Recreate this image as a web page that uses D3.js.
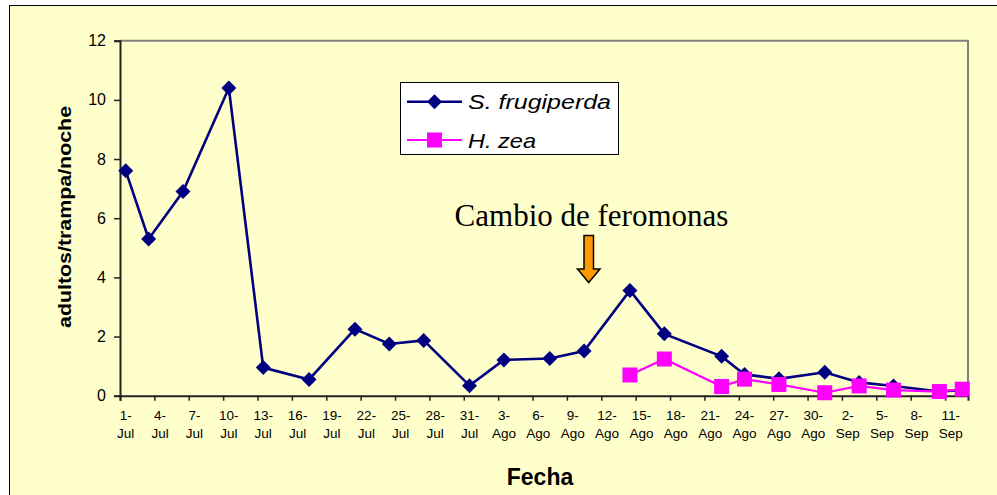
<!DOCTYPE html>
<html>
<head>
<meta charset="utf-8">
<script src="https://cdn.jsdelivr.net/npm/d3@7"></script>
<style>
  body { margin: 0; background: #fff; }
  svg { display: block; font-family: Arial, "Liberation Sans", sans-serif; }
</style>
</head>
<body>
<svg width="997" height="495"></svg>
<script>
// fechas de muestreo y capturas (adultos/trampa/noche)
const fechasSF = ['1-Jul','3-Jul','6-Jul','10-Jul','13-Jul','17-Jul','21-Jul','24-Jul','27-Jul','31-Jul',
  '3-Ago','7-Ago','10-Ago','14-Ago','17-Ago','22-Ago','24-Ago','27-Ago','31-Ago','3-Sep','6-Sep','10-Sep','12-Sep'];
const sFrugiperda = [7.6, 5.3, 6.9, 10.4, 0.95, 0.55, 2.25, 1.75, 1.87, 0.34,
  1.21, 1.26, 1.51, 3.56, 2.09, 1.33, 0.72, 0.57, 0.79, 0.45, 0.33, 0.14, 0.19];
const fechasHZ = ['14-Ago','17-Ago','22-Ago','24-Ago','27-Ago','31-Ago','3-Sep','6-Sep','10-Sep','12-Sep'];
const hZea = [0.7, 1.24, 0.31, 0.56, 0.38, 0.1, 0.33, 0.19, 0.14, 0.22];
const tickLabels = ['1-Jul','4-Jul','7-Jul','10-Jul','13-Jul','16-Jul','19-Jul','22-Jul','25-Jul','28-Jul','31-Jul',
  '3-Ago','6-Ago','9-Ago','12-Ago','15-Ago','18-Ago','21-Ago','24-Ago','27-Ago','30-Ago','2-Sep','5-Sep','8-Sep','11-Sep'];
const yTicks = [0, 2, 4, 6, 8, 10, 12];
const series = [
  {name: 'S. frugiperda', fechas: fechasSF, values: sFrugiperda, color: '#000080', marker: 'diamond'},
  {name: 'H. zea', fechas: fechasHZ, values: hZea, color: '#FF00FF', marker: 'square'}
];

const meses = {Jul: 6, Ago: 7, Sep: 8};
function parseFecha(s) {
  const [d, m] = s.split('-');
  return new Date(2004, meses[m], +d);
}
const mid = (s) => d3.timeHour.offset(parseFecha(s), 12);

const svg = d3.select('svg');
const plotLeft = 120, plotRight = 968, plotTop = 40.7, plotBottom = 395.7;

// chart area
svg.append('rect')
  .attr('x', 9.5).attr('y', 5.5)
  .attr('width', 1000).attr('height', 500)
  .attr('fill', '#FFFFCC').attr('stroke', '#000').attr('stroke-width', 1);

const x = d3.scaleTime()
  .domain([new Date(2004, 6, 1), new Date(2004, 8, 13)])
  .range([plotLeft, plotRight]);
const y = d3.scaleLinear().domain([0, 12]).range([plotBottom, plotTop]);

// plot border top/right
svg.append('path')
  .attr('d', `M${plotLeft},${plotTop}H${plotRight}V${plotBottom}`)
  .attr('fill', 'none').attr('stroke', '#808080').attr('stroke-width', 2);

// y axis
const yAxis = svg.append('g')
  .attr('transform', `translate(${plotLeft},0)`)
  .call(d3.axisLeft(y).tickValues(yTicks).tickSize(6).tickPadding(8));
yAxis.select('.domain').attr('stroke', '#222').attr('stroke-width', 2);
yAxis.selectAll('.tick line').attr('stroke', '#222').attr('stroke-width', 1.5);
yAxis.selectAll('.tick text').attr('font-size', 16).attr('fill', '#000')
  .attr('font-family', 'Arial, "Liberation Sans", sans-serif');

// x axis: tick marks every 3 days at day boundaries
const tickDates = d3.timeDay.range(new Date(2004, 6, 1), new Date(2004, 8, 14), 1)
  .filter((d, i) => i % 3 === 0);
const xAxis = svg.append('g')
  .attr('transform', `translate(0,${plotBottom})`)
  .call(d3.axisBottom(x).tickValues(tickDates).tickSize(5).tickFormat(''));
xAxis.select('.domain').attr('stroke', '#222').attr('stroke-width', 2);
xAxis.selectAll('.tick line').attr('stroke', '#222').attr('stroke-width', 1.5);

const xl = svg.append('g').selectAll('text')
  .data(tickLabels)
  .join('text')
  .attr('x', (d) => x(mid(d)))
  .attr('y', plotBottom + 24)
  .attr('text-anchor', 'middle')
  .attr('font-size', 13.5)
  .attr('fill', '#000');
xl.append('tspan').attr('x', (d) => x(mid(d))).text((d) => d.split('-')[0] + '-');
xl.append('tspan').attr('x', (d) => x(mid(d))).attr('dy', 18.7).text((d) => d.split('-')[1]);

// axis titles
svg.append('text')
  .attr('transform', 'translate(71,217) rotate(-90)')
  .attr('text-anchor', 'middle')
  .attr('font-size', 18).attr('font-weight', 'bold')
  .attr('textLength', 222).attr('lengthAdjust', 'spacingAndGlyphs')
  .text('adultos/trampa/noche');
svg.append('text')
  .attr('x', 540).attr('y', 485)
  .attr('text-anchor', 'middle')
  .attr('font-size', 23).attr('font-weight', 'bold')
  .text('Fecha');

const line = d3.line().x((d) => x(mid(d[0]))).y((d) => y(d[1]));
const diamond = (s) => `M0,${-s}L${s},0L0,${s}L${-s},0Z`;

series.forEach((s) => {
  const pts = s.fechas.map((f, i) => [f, s.values[i]]);
  const g = svg.append('g');
  g.append('path').datum(pts)
    .attr('d', line)
    .attr('fill', 'none').attr('stroke', s.color)
    .attr('stroke-width', s.marker === 'diamond' ? 2.6 : 2.2);
  if (s.marker === 'diamond') {
    g.selectAll('path.m').data(pts).join('path').attr('class', 'm')
      .attr('transform', (d) => `translate(${x(mid(d[0]))},${y(d[1])})`)
      .attr('d', diamond(7.5)).attr('fill', s.color);
  } else {
    g.selectAll('rect.m').data(pts).join('rect').attr('class', 'm')
      .attr('x', (d) => x(mid(d[0])) - 7.5).attr('y', (d) => y(d[1]) - 7.5)
      .attr('width', 15).attr('height', 15).attr('fill', s.color);
  }
});

// legend
const lg = svg.append('g');
lg.append('rect')
  .attr('x', 400.5).attr('y', 82.5).attr('width', 218).attr('height', 72)
  .attr('fill', '#fff').attr('stroke', '#000').attr('stroke-width', 1);
series.forEach((s, i) => {
  const cy = 101.7 + i * 38.3;
  lg.append('line').attr('x1', 407).attr('x2', 462).attr('y1', cy).attr('y2', cy)
    .attr('stroke', s.color).attr('stroke-width', s.marker === 'diamond' ? 2.6 : 2.2);
  if (s.marker === 'diamond') {
    lg.append('path').attr('transform', `translate(434.5,${cy})`).attr('d', diamond(7.5)).attr('fill', s.color);
  } else {
    lg.append('rect').attr('x', 427).attr('y', cy - 7.5).attr('width', 15).attr('height', 15).attr('fill', s.color);
  }
  lg.append('text').attr('x', 468).attr('y', cy + 7.5)
    .attr('font-size', 21).attr('font-style', 'italic')
    .attr('textLength', i === 0 ? 143 : 68).attr('lengthAdjust', 'spacingAndGlyphs')
    .text(s.name);
});

// annotation
svg.append('text')
  .attr('x', 591.5).attr('y', 226)
  .attr('text-anchor', 'middle')
  .attr('font-family', '"Liberation Serif", "Times New Roman", serif')
  .attr('font-size', 31)
  .text('Cambio de feromonas');
svg.append('path')
  .attr('d', 'M584,235.5H593.5V269H600L588.7,282.5L577.5,269H584Z')
  .attr('fill', '#FF9900').attr('stroke', '#000').attr('stroke-width', 1.5)
  .attr('stroke-linejoin', 'miter');
</script>
</body>
</html>
